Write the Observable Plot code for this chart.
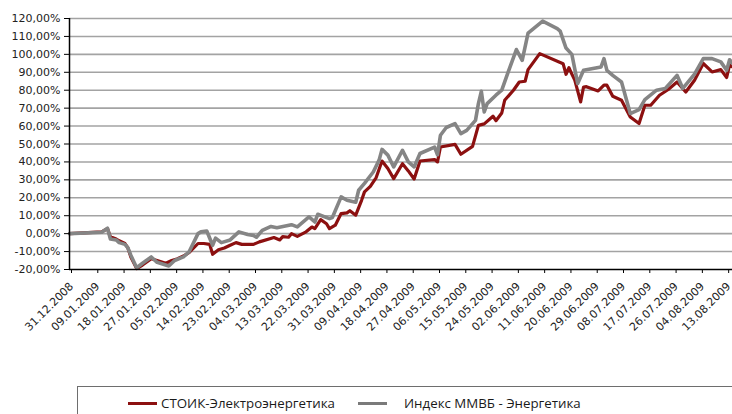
<!DOCTYPE html>
<html>
<head>
<meta charset="utf-8">
<script src="https://cdn.jsdelivr.net/npm/d3@7"></script>
<script src="https://cdn.jsdelivr.net/npm/@observablehq/plot@0.6"></script>
<style>
  html, body { margin: 0; padding: 0; background: #fff; width: 732px; height: 414px; overflow: hidden; }
  #wrap { position: relative; width: 732px; height: 414px; }
  #legend {
    position: absolute; left: 77px; top: 386px; width: 700px; height: 60px;
    border: 1px solid #6e6e6e; box-sizing: border-box;
    font-family: "Open Sans", sans-serif; font-size: 13.3px; color: #1a1a1a;
  }
  .item { position: absolute; top: 7px; display: flex; align-items: center; white-space: nowrap; }
  .swatch { display: inline-block; width: 29px; height: 3px; margin-right: 4px; }
</style>
</head>
<body>
<div id="wrap">
  <div id="chart"></div>
  <div id="legend">
    <div class="item" style="left:50px"><span class="swatch" style="background:#8c1010"></span><span id="lab0"></span></div>
    <div class="item" style="left:280px"><span class="swatch" style="background:#7a7a7a;margin-right:17px"></span><span id="lab1"></span></div>
  </div>
</div>
<script>
const seriesNames = ["СТОИК-Электроэнергетика", "Индекс ММВБ - Энергетика"];

const stoikDates = ["2008-12-31","2009-01-11","2009-01-13","2009-01-14","2009-01-16","2009-01-17","2009-01-19","2009-01-20","2009-01-21","2009-01-23","2009-01-25","2009-01-28","2009-01-30","2009-02-02","2009-02-04","2009-02-06","2009-02-08","2009-02-10","2009-02-13","2009-02-15","2009-02-17","2009-02-18","2009-02-20","2009-02-22","2009-02-24","2009-02-26","2009-02-28","2009-03-04","2009-03-06","2009-03-11","2009-03-13","2009-03-14","2009-03-16","2009-03-17","2009-03-19","2009-03-22","2009-03-24","2009-03-25","2009-03-27","2009-03-29","2009-03-30","2009-04-01","2009-04-03","2009-04-05","2009-04-06","2009-04-08","2009-04-10","2009-04-11","2009-04-13","2009-04-15","2009-04-17","2009-04-19","2009-04-21","2009-04-24","2009-04-26","2009-04-28","2009-04-30","2009-05-05","2009-05-06","2009-05-07","2009-05-12","2009-05-14","2009-05-18","2009-05-20","2009-05-22","2009-05-25","2009-05-26","2009-05-28","2009-05-29","2009-06-01","2009-06-03","2009-06-05","2009-06-06","2009-06-10","2009-06-18","2009-06-19","2009-06-20","2009-06-21","2009-06-22","2009-06-24","2009-06-25","2009-06-26","2009-06-30","2009-07-02","2009-07-03","2009-07-05","2009-07-08","2009-07-11","2009-07-14","2009-07-16","2009-07-18","2009-07-21","2009-07-24","2009-07-27","2009-07-30","2009-08-02","2009-08-05","2009-08-08","2009-08-11","2009-08-13","2009-08-14","2009-08-15"];
const stoikValues = [0,1.0,2.8,-1.8,-3,-4,-5.5,-8,-13,-19.5,-17.5,-14,-15,-16.5,-15,-14,-12.5,-10.5,-5.5,-5.5,-6,-11.5,-9,-8,-6.5,-5,-6,-6,-4.6,-2.2,-3.5,-1.7,-2,0,-1.5,1,3.7,2.8,7.8,5.5,2.8,4.7,11.2,11.6,12.8,10.3,18.6,23.3,26.4,31.3,40.5,36.3,30.7,39,35,30.5,40.5,41.3,40,48.3,49.8,44.3,48.7,60.4,61.2,65.5,63,67.3,74.4,80,84.6,85,91.5,100.4,94.8,88.9,92.6,89,85.6,73.5,81.8,82,79.6,82.8,82.8,76.6,74.4,65.1,61.4,71.6,71.6,77.2,80.4,84.6,79,85.6,94.9,90.2,91.5,87.1,94,93];

const indexDates = ["2008-12-31","2009-01-11","2009-01-13","2009-01-14","2009-01-16","2009-01-17","2009-01-19","2009-01-20","2009-01-21","2009-01-23","2009-01-25","2009-01-28","2009-01-30","2009-02-03","2009-02-05","2009-02-08","2009-02-10","2009-02-13","2009-02-14","2009-02-16","2009-02-18","2009-02-19","2009-02-21","2009-02-24","2009-02-27","2009-03-02","2009-03-04","2009-03-05","2009-03-07","2009-03-10","2009-03-12","2009-03-17","2009-03-19","2009-03-23","2009-03-25","2009-03-26","2009-03-30","2009-03-31","2009-04-03","2009-04-05","2009-04-08","2009-04-09","2009-04-11","2009-04-14","2009-04-16","2009-04-17","2009-04-19","2009-04-21","2009-04-24","2009-04-26","2009-04-28","2009-04-30","2009-05-05","2009-05-06","2009-05-07","2009-05-09","2009-05-12","2009-05-14","2009-05-16","2009-05-19","2009-05-20","2009-05-21","2009-05-22","2009-05-23","2009-05-26","2009-05-28","2009-05-30","2009-06-02","2009-06-04","2009-06-06","2009-06-11","2009-06-16","2009-06-17","2009-06-19","2009-06-21","2009-06-23","2009-06-25","2009-07-01","2009-07-02","2009-07-03","2009-07-05","2009-07-08","2009-07-11","2009-07-14","2009-07-16","2009-07-20","2009-07-23","2009-07-27","2009-07-29","2009-08-02","2009-08-05","2009-08-08","2009-08-11","2009-08-13","2009-08-14","2009-08-15"];
const indexValues = [0,0.8,3,-3,-3.5,-5,-6,-8,-12,-19,-16.5,-13,-16,-18,-15,-13,-10,0,1,1.5,-6.5,-2.5,-5,-3.5,1,-0.5,-1,-2,1.8,4,3.3,5,3.8,9.3,6.5,10.8,8.4,9,20.5,18.6,17.5,24.2,28,34.4,41,47,43.8,37.2,46.5,40,37.2,44.7,48.3,44,54.9,59.2,61.4,55.8,57.6,63.2,72.5,79.4,67.9,72.5,77.2,80,89.3,102.7,96.7,111.8,118.5,114.4,113,103.5,100,83.7,91.1,93,97.6,91.1,88.3,84.6,67,69.2,74.8,80,81,88.3,81,89,97.6,97.6,95.8,91.1,97,95];

const yTicks = [-20,-10,0,10,20,30,40,50,60,70,80,90,100,110,120];
const xTickLabels = ["31.12.2008","09.01.2009","18.01.2009","27.01.2009","05.02.2009","14.02.2009","23.02.2009","04.03.2009","13.03.2009","22.03.2009","31.03.2009","09.04.2009","18.04.2009","27.04.2009","06.05.2009","15.05.2009","24.05.2009","02.06.2009","11.06.2009","20.06.2009","29.06.2009","08.07.2009","17.07.2009","26.07.2009","04.08.2009","13.08.2009"];

const parseIso = d3.utcParse("%Y-%m-%d");
const parseRu = d3.utcParse("%d.%m.%Y");
const fmtRu = d3.utcFormat("%d.%m.%Y");
const xTicks = xTickLabels.map(parseRu);

const stoik = stoikDates.map((d, i) => ({date: parseIso(d), value: stoikValues[i]}));
const index = indexDates.map((d, i) => ({date: parseIso(d), value: indexValues[i]}));

document.getElementById("lab0").textContent = seriesNames[0];
document.getElementById("lab1").textContent = seriesNames[1];

const chart = Plot.plot({
  width: 732,
  height: 384,
  marginLeft: 69,
  marginRight: 0,
  marginTop: 18,
  marginBottom: 115,
  style: {fontFamily: "DejaVu Sans", fontSize: "11px", color: "#222", background: "#fff"},
  x: {type: "utc", domain: [parseIso("2008-12-31"), parseIso("2009-08-15")]},
  y: {domain: [-20, 120]},
  marks: [
    Plot.ruleY(yTicks.filter(v => v > -20), {stroke: "#a3a3a3", strokeWidth: 1.6}),
    Plot.lineY(stoik, {x: "date", y: "value", stroke: "#8c1010", strokeWidth: 3.2, strokeLinejoin: "round"}),
    Plot.lineY(index, {x: "date", y: "value", stroke: "#858585", strokeWidth: 3.6, strokeLinejoin: "round"}),
    Plot.ruleY([-20], {stroke: "#000", strokeWidth: 1.5}),
    Plot.ruleX([parseIso("2008-12-31")], {stroke: "#000", strokeWidth: 1.5}),
    Plot.axisY({ticks: yTicks, tickFormat: d => d.toFixed(2).replace(".", ",") + "%", tickSize: 5, tickPadding: 4, stroke: "#000", label: null}),
    Plot.axisX({ticks: xTicks, tickFormat: fmtRu, tickSize: 4, tickPadding: 11, dx: 2, tickRotate: -45, stroke: "#000", label: null})
  ]
});
document.getElementById("chart").appendChild(chart);
</script>
</body>
</html>
